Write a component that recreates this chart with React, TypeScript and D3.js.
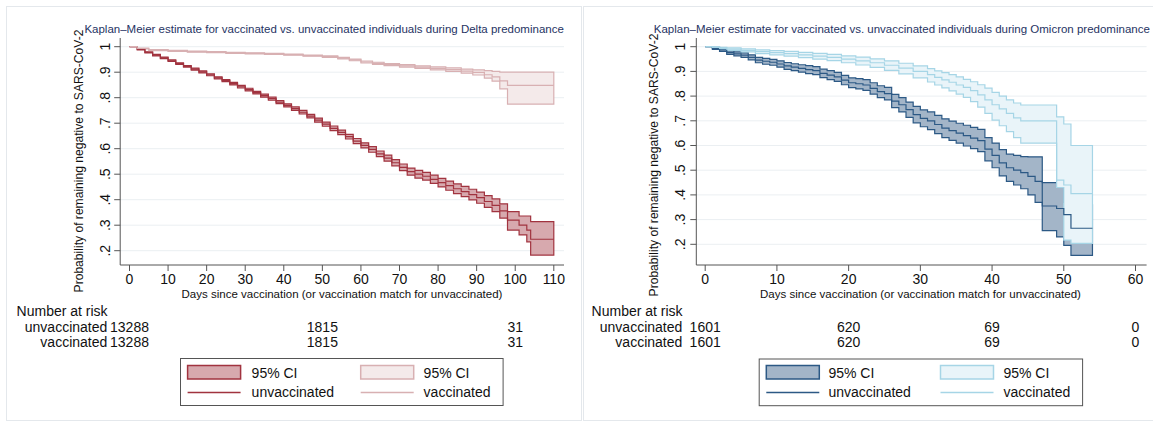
import React from "react";
import * as d3 from "d3";

type Row = [number, number, number, number]; // day, estimate, lower CI, upper CI

// ---------- Delta panel data ----------
const deltaTitle =
  "Kaplan–Meier estimate for vaccinated vs. unvaccinated individuals during Delta predominance";
const deltaXTicks = [0, 10, 20, 30, 40, 50, 60, 70, 80, 90, 100, 110];
const deltaEndDay = 110;
const deltaUnvacc: Row[] = [
  [0, 1, 1, 1], [2, 0.989, 0.987, 0.991], [4, 0.978, 0.976, 0.98], [6, 0.967, 0.964, 0.97],
  [8, 0.956, 0.953, 0.959], [10, 0.945, 0.942, 0.948], [12, 0.934, 0.931, 0.937],
  [14, 0.923, 0.92, 0.926], [16, 0.912, 0.908, 0.916], [18, 0.901, 0.897, 0.905],
  [20, 0.89, 0.886, 0.894], [22, 0.878, 0.874, 0.882], [24, 0.867, 0.863, 0.871],
  [26, 0.855, 0.85, 0.86], [28, 0.843, 0.838, 0.848], [30, 0.832, 0.827, 0.837],
  [32, 0.82, 0.815, 0.825], [34, 0.808, 0.802, 0.814], [36, 0.796, 0.79, 0.802],
  [38, 0.783, 0.777, 0.789], [40, 0.77, 0.764, 0.776], [42, 0.757, 0.75, 0.764],
  [44, 0.743, 0.736, 0.75], [46, 0.728, 0.721, 0.735], [48, 0.712, 0.704, 0.72],
  [50, 0.696, 0.688, 0.704], [52, 0.68, 0.671, 0.689], [54, 0.664, 0.655, 0.673],
  [56, 0.647, 0.638, 0.656], [58, 0.63, 0.62, 0.64], [60, 0.613, 0.603, 0.623],
  [62, 0.597, 0.586, 0.608], [64, 0.58, 0.569, 0.591], [66, 0.563, 0.551, 0.575],
  [68, 0.545, 0.533, 0.557], [70, 0.527, 0.514, 0.54], [72, 0.51, 0.496, 0.524],
  [74, 0.5, 0.485, 0.515], [76, 0.492, 0.477, 0.507], [78, 0.48, 0.464, 0.496],
  [80, 0.467, 0.45, 0.484], [82, 0.455, 0.437, 0.473], [84, 0.443, 0.424, 0.462],
  [86, 0.432, 0.412, 0.452], [88, 0.42, 0.399, 0.441], [90, 0.408, 0.386, 0.43],
  [92, 0.393, 0.37, 0.416], [94, 0.378, 0.353, 0.403], [96, 0.356, 0.328, 0.384],
  [98, 0.32, 0.281, 0.353], [101, 0.3, 0.262, 0.336], [103, 0.281, 0.235, 0.336],
  [104, 0.245, 0.183, 0.314],
];
const deltaVacc: Row[] = [
  [0, 1, 1, 1], [2, 0.993, 0.991, 0.995], [5, 0.987, 0.985, 0.989], [10, 0.984, 0.982, 0.986],
  [15, 0.981, 0.979, 0.983], [20, 0.979, 0.977, 0.981], [25, 0.976, 0.974, 0.978],
  [30, 0.974, 0.972, 0.976], [35, 0.972, 0.97, 0.974], [40, 0.969, 0.967, 0.971],
  [45, 0.965, 0.963, 0.967], [50, 0.961, 0.958, 0.964], [54, 0.955, 0.952, 0.958],
  [57, 0.948, 0.945, 0.951], [60, 0.94, 0.936, 0.944], [63, 0.935, 0.931, 0.939],
  [66, 0.93, 0.926, 0.934], [70, 0.925, 0.92, 0.93], [74, 0.92, 0.915, 0.925],
  [78, 0.915, 0.909, 0.921], [82, 0.91, 0.903, 0.917], [86, 0.904, 0.896, 0.912],
  [89, 0.899, 0.889, 0.909], [92, 0.89, 0.877, 0.906], [94, 0.882, 0.865, 0.903],
  [96, 0.866, 0.835, 0.9], [98, 0.848, 0.775, 0.9],
];
const deltaRiskDays = [0, 50, 100];
const deltaRiskUnvacc = [13288, 1815, 31];
const deltaRiskVacc = [13288, 1815, 31];

// ---------- Omicron panel data ----------
const omicronTitle =
  "Kaplan–Meier estimate for vaccinated vs. unvaccinated individuals during Omicron predominance";
const omicronXTicks = [0, 10, 20, 30, 40, 50, 60];
const omicronEndDay = 54;
const omicronUnvacc: Row[] = [
  [0, 1, 1, 1], [1, 0.993, 0.989, 0.997], [2, 0.987, 0.981, 0.993], [3, 0.976, 0.969, 0.983],
  [4, 0.971, 0.963, 0.979], [5, 0.966, 0.957, 0.975], [6, 0.957, 0.947, 0.967],
  [7, 0.946, 0.935, 0.957], [8, 0.941, 0.929, 0.953], [9, 0.937, 0.925, 0.949],
  [10, 0.93, 0.917, 0.943], [11, 0.922, 0.908, 0.936], [12, 0.917, 0.903, 0.931],
  [13, 0.912, 0.897, 0.927], [14, 0.907, 0.891, 0.923], [15, 0.903, 0.887, 0.919],
  [16, 0.892, 0.875, 0.909], [17, 0.885, 0.867, 0.903], [18, 0.878, 0.86, 0.896],
  [19, 0.865, 0.846, 0.884], [20, 0.854, 0.834, 0.874], [21, 0.85, 0.829, 0.871],
  [22, 0.845, 0.823, 0.867], [23, 0.831, 0.808, 0.854], [24, 0.818, 0.794, 0.842],
  [25, 0.81, 0.785, 0.835], [26, 0.78, 0.753, 0.807], [27, 0.765, 0.736, 0.794],
  [28, 0.745, 0.714, 0.776], [29, 0.725, 0.692, 0.758], [30, 0.71, 0.676, 0.744],
  [31, 0.7, 0.664, 0.736], [32, 0.685, 0.648, 0.722], [33, 0.67, 0.632, 0.708],
  [34, 0.66, 0.621, 0.699], [35, 0.65, 0.61, 0.69], [36, 0.64, 0.598, 0.682],
  [37, 0.63, 0.587, 0.673], [38, 0.62, 0.575, 0.665], [39, 0.585, 0.538, 0.632],
  [40, 0.56, 0.51, 0.61], [41, 0.53, 0.477, 0.583], [42, 0.51, 0.455, 0.565],
  [43, 0.5, 0.44, 0.56], [44, 0.49, 0.425, 0.555], [45, 0.475, 0.4, 0.554],
  [46, 0.455, 0.37, 0.554], [47, 0.355, 0.255, 0.45], [49, 0.345, 0.23, 0.45],
  [50, 0.32, 0.196, 0.37], [51, 0.265, 0.155, 0.36],
];
const omicronVacc: Row[] = [
  [0, 1, 1, 1], [1, 0.997, 0.995, 0.999], [2, 0.993, 0.989, 0.997], [3, 0.99, 0.985, 0.995],
  [5, 0.985, 0.979, 0.991], [7, 0.98, 0.972, 0.987], [9, 0.976, 0.967, 0.984],
  [11, 0.972, 0.962, 0.981], [13, 0.967, 0.956, 0.977], [15, 0.962, 0.95, 0.973],
  [17, 0.957, 0.944, 0.969], [19, 0.95, 0.935, 0.963], [21, 0.943, 0.926, 0.958],
  [23, 0.935, 0.916, 0.951], [25, 0.925, 0.904, 0.943], [27, 0.913, 0.89, 0.933],
  [29, 0.9, 0.874, 0.922], [31, 0.887, 0.857, 0.911], [32, 0.876, 0.845, 0.902],
  [33, 0.866, 0.833, 0.895], [34, 0.856, 0.821, 0.887], [35, 0.845, 0.808, 0.878],
  [36, 0.835, 0.795, 0.868], [37, 0.822, 0.778, 0.858], [38, 0.805, 0.755, 0.846],
  [39, 0.785, 0.73, 0.832], [40, 0.765, 0.703, 0.815], [41, 0.748, 0.68, 0.8],
  [42, 0.73, 0.656, 0.785], [43, 0.712, 0.632, 0.772], [44, 0.7, 0.61, 0.764],
  [49, 0.46, 0.43, 0.716], [50, 0.44, 0.217, 0.687], [51, 0.405, 0.204, 0.6],
];
const omicronRiskDays = [0, 20, 40, 60];
const omicronRiskUnvacc = [1601, 620, 69, 0];
const omicronRiskVacc = [1601, 620, 69, 0];

const yTicks = [1, 0.9, 0.8, 0.7, 0.6, 0.5, 0.4, 0.3, 0.2];
const yTickLabels = ["1", ".9", ".8", ".7", ".6", ".5", ".4", ".3", ".2"];
const yAxisTitle = "Probability of remaining negative to SARS-CoV-2";
const xAxisTitle = "Days since vaccination (or vaccination match for unvaccinated)";
const groupNames = ["unvaccinated", "vaccinated"];

const FONT = "'Liberation Sans', Arial, Helvetica, sans-serif";

type PanelProps = {
  title: string;
  xTicks: number[];
  endDay: number;
  unvacc: Row[];
  vacc: Row[];
  riskDays: number[];
  riskU: number[];
  riskV: number[];
  colors: { uLine: string; uFill: string; vLine: string; vFill: string };
  L: any;
};

function Panel({ title, xTicks, endDay, unvacc, vacc, riskDays, riskU, riskV, colors, L }: PanelProps) {
  const x = d3.scaleLinear().domain([0, xTicks[xTicks.length - 1]]).range([L.x0, L.x1]);
  const y = d3.scaleLinear().domain([0.2, 1]).range([L.y02, 46.7]);
  const yTop = 38;
  const yBottom = 265;

  // repeat the last step out to the end of follow-up
  const extend = (rows: Row[]): Row[] => {
    const last = rows[rows.length - 1];
    return [...rows, [endDay, last[1], last[2], last[3]]];
  };
  const line = d3.line<Row>().x((d) => x(d[0])).y((d) => y(d[1])).curve(d3.curveStepAfter);
  const area = d3
    .area<Row>()
    .x((d) => x(d[0]))
    .y0((d) => y(d[2]))
    .y1((d) => y(d[3]))
    .curve(d3.curveStepAfter);

  const u = extend(unvacc);
  const v = extend(vacc);
  const lg = L.legend;

  return (
    <g fontFamily={FONT}>
      <rect x={L.frame[0]} y={6.5} width={L.frame[1]} height={414} fill="#fff" stroke="#e4e8ec" />
      <text x={L.titleX} y={33} fontSize={11.5} fill="#263363">
        {title}
      </text>
      {yTicks.map((t) => (
        <line key={t} x1={L.axisX} x2={L.plotRight} y1={y(t)} y2={y(t)} stroke="#ebeff2" strokeWidth={1} />
      ))}
      <path d={area(u) || ""} fill={colors.uFill} stroke={colors.uLine} strokeWidth={1.2} />
      <path d={area(v) || ""} fill={colors.vFill} stroke={colors.vLine} strokeWidth={1.2} />
      <path d={line(u) || ""} fill="none" stroke={colors.uLine} strokeWidth={1.2} />
      <path d={line(v) || ""} fill="none" stroke={colors.vLine} strokeWidth={1.2} />
      {/* axes */}
      <line x1={L.axisX} x2={L.axisX} y1={yTop} y2={yBottom} stroke="#555" />
      <line x1={L.axisX} x2={L.plotRight} y1={yBottom} y2={yBottom} stroke="#555" />
      {yTicks.map((t, i) => (
        <g key={t}>
          <line x1={L.axisX - 6} x2={L.axisX} y1={y(t)} y2={y(t)} stroke="#555" />
          <text
            transform={`translate(${L.tickLabelX},${y(t)}) rotate(-90)`}
            textAnchor="middle"
            dy="0.36em"
            fontSize={14}
            fill="#111"
          >
            {yTickLabels[i]}
          </text>
        </g>
      ))}
      {xTicks.map((t) => (
        <g key={t}>
          <line x1={x(t)} x2={x(t)} y1={yBottom} y2={yBottom + 6} stroke="#555" />
          <text x={x(t)} y={284} textAnchor="middle" fontSize={14} fill="#111">
            {t}
          </text>
        </g>
      ))}
      <text
        transform={`translate(${L.yTitleX},${L.yTitleY}) rotate(-90)`}
        textAnchor="middle"
        dy="0.35em"
        fontSize={12.1}
        fill="#111"
      >
        {yAxisTitle}
      </text>
      <text x={L.xTitleX} y={298} textAnchor="middle" fontSize={11.5} fill="#111">
        {xAxisTitle}
      </text>
      {/* number at risk */}
      <text x={L.riskTitleX} y={315.7} fontSize={14} fill="#111">
        Number at risk
      </text>
      {[riskU, riskV].map((vals, r) => (
        <g key={r}>
          <text x={L.riskLabelX} y={332 + r * 15} textAnchor="end" fontSize={14} fill="#111">
            {groupNames[r]}
          </text>
          {vals.map((n, i) => (
            <text key={i} x={x(riskDays[i])} y={332 + r * 15} textAnchor="middle" fontSize={14} fill="#111">
              {n}
            </text>
          ))}
        </g>
      ))}
      {/* legend */}
      <rect x={lg.x} y={lg.y} width={lg.w} height={lg.h} fill="#fff" stroke="#555" />
      {[
        [lg.sw1, lg.t1, colors.uLine, colors.uFill, groupNames[0]],
        [lg.sw2, lg.t2, colors.vLine, colors.vFill, groupNames[1]],
      ].map(([sx, tx, lc, fc, name]: any, i) => (
        <g key={i}>
          <rect x={sx} y={365.5} width={53} height={13.5} fill={fc} stroke={lc} strokeWidth={1.5} />
          <text x={tx} y={378} fontSize={14} fill="#111">
            95% CI
          </text>
          <line x1={sx} x2={sx + 53} y1={392.5} y2={392.5} stroke={lc} strokeWidth={1.3} />
          <text x={tx} y={397} fontSize={14} fill="#111">
            {name}
          </text>
        </g>
      ))}
    </g>
  );
}

const leftLayout = {
  frame: [6.5, 575],
  x0: 129.5,
  x1: 553.8,
  y02: 250.7,
  axisX: 120.2,
  plotRight: 564,
  titleX: 84.4,
  tickLabelX: 105.4,
  yTitleX: 78.4,
  yTitleY: 161,
  xTitleX: 342,
  riskTitleX: 16.6,
  riskLabelX: 107.3,
  legend: { x: 180.5, y: 358.5, w: 322.6, h: 47, sw1: 187.6, t1: 251.6, sw2: 360.7, t2: 423.6 },
};
const rightLayout = {
  frame: [583.5, 575],
  x0: 705.2,
  x1: 1135.5,
  y02: 244.3,
  axisX: 696.3,
  plotRight: 1146.6,
  titleX: 653.8,
  tickLabelX: 680.4,
  yTitleX: 653.4,
  yTitleY: 165,
  xTitleX: 920.5,
  riskTitleX: 591.6,
  riskLabelX: 682.3,
  legend: { x: 759.2, y: 359, w: 323.4, h: 46.7, sw1: 766.3, t1: 828.4, sw2: 940.5, t2: 1003.4 },
};

export default function App() {
  return (
    <svg
      width={1153}
      height={423}
      style={{ position: "absolute", left: 0, top: 0, background: "#fff" }}
    >
      <Panel
        title={deltaTitle}
        xTicks={deltaXTicks}
        endDay={deltaEndDay}
        unvacc={deltaUnvacc}
        vacc={deltaVacc}
        riskDays={deltaRiskDays}
        riskU={deltaRiskUnvacc}
        riskV={deltaRiskVacc}
        colors={{ uLine: "#a1333f", uFill: "#d7a9ae", vLine: "#d8b0b2", vFill: "#f4eaea" }}
        L={leftLayout}
      />
      <Panel
        title={omicronTitle}
        xTicks={omicronXTicks}
        endDay={omicronEndDay}
        unvacc={omicronUnvacc}
        vacc={omicronVacc}
        riskDays={omicronRiskDays}
        riskU={omicronRiskUnvacc}
        riskV={omicronRiskVacc}
        colors={{ uLine: "#2c5985", uFill: "#a3b5c8", vLine: "#a6d5e6", vFill: "#e9f4f9" }}
        L={rightLayout}
      />
    </svg>
  );
}
